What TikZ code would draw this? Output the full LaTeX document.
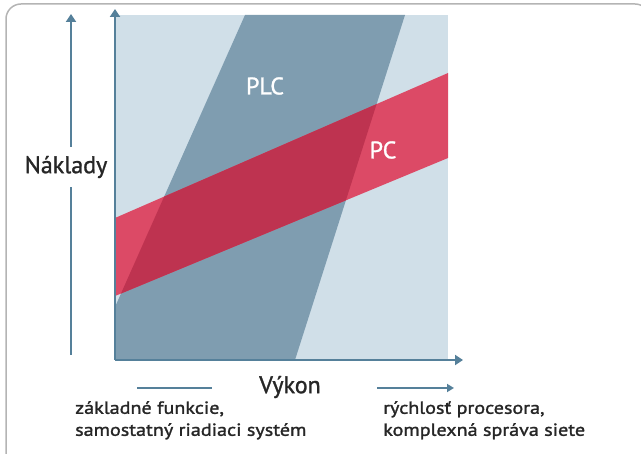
\documentclass[tikz,border=0pt]{standalone}
\usepackage{fontspec}
\setmainfont{PT Sans}[FakeBold=1.2]
\newfontfamily\widesans{PT Sans}[FakeStretch=1.15,FakeBold=1.5]
\usetikzlibrary{arrows.meta}
\definecolor{bgblue}{HTML}{D0DFE8}
\definecolor{plcblue}{HTML}{7F9DB0}
\definecolor{pcred}{HTML}{DC4A66}
\definecolor{pcdark}{HTML}{BE3350}
\definecolor{axisblue}{HTML}{55809A}
\definecolor{framegray}{HTML}{B4B4B4}
\begin{document}
\begin{tikzpicture}[x=1pt,y=-1pt,
    axis/.style={draw=axisblue,line width=2.5pt,-{Triangle[length=8pt,width=10pt]}},
    hint/.style={draw=axisblue,line width=2pt},
    biglabel/.style={font=\fontsize{24}{28}\selectfont,inner sep=0pt,text=black!85},
    smalllabel/.style={font=\widesans\fontsize{17.5}{22}\selectfont,align=left,inner sep=0pt,anchor=north west,text=black!85}]
\path[use as bounding box] (0,0) rectangle (641,454);
\begin{scope}
\clip (0,0) rectangle (641,454);
\draw[framegray,line width=1.5pt,rounded corners=15pt] (6,4) rectangle (650,480);
\end{scope}

\coordinate (origin) at (115,360);
\coordinate (corner) at (448,15);
\coordinate (plcA) at (245,15);
\coordinate (plcB) at (405,15);
\coordinate (plcC) at (295,360);
\coordinate (plcD) at (91.4,360);
\coordinate (pcA) at (115,218);
\coordinate (pcB) at (448,73);
\coordinate (pcC) at (448,158);
\coordinate (pcD) at (115,296);

\fill[bgblue] (origin) rectangle (corner);
\begin{scope}
\clip (origin) rectangle (corner);
\fill[plcblue] (plcA) -- (plcB) -- (plcC) -- (plcD) -- cycle;
\fill[pcred] (pcA) -- (pcB) -- (pcC) -- (pcD) -- cycle;
\clip (plcA) -- (plcB) -- (plcC) -- (plcD) -- cycle;
\fill[pcdark] (pcA) -- (pcB) -- (pcC) -- (pcD) -- cycle;
\end{scope}

\node[biglabel,text=white] (plc) at (265,86) {PLC};
\node[biglabel,text=white] (pc) at (383,150) {PC};

\coordinate (xend) at (463,360);
\coordinate (yend) at (115,9);
\draw[axis] (origin) -- (xend);
\draw[axis] (origin) -- (yend);

\node[biglabel,minimum height=40pt] (costs) at (66,167) {Náklady};
\coordinate (costbot) at (71,355);
\coordinate (costtop) at (71,14);
\draw[hint,line width=2.5pt] (costbot) -- (costs.south -| costbot);
\draw[axis] (costs.north -| costtop) -- (costtop);

\node[biglabel] (perf) at (290,387) {Výkon};
\coordinate (lowA) at (137,388);
\coordinate (lowB) at (212,388);
\coordinate (highA) at (377,388);
\coordinate (highB) at (454,388);
\draw[hint] (lowA) -- (lowB);
\draw[hint,-{Triangle[length=7pt,width=8pt]}] (highA) -- (highB);

\node[smalllabel] (basic) at (75,401) {základné funkcie,\\samostatný riadiaci systém};
\node[smalllabel] (advanced) at (383,401) {rýchlosť procesora,\\komplexná správa siete};
\end{tikzpicture}
\end{document}
